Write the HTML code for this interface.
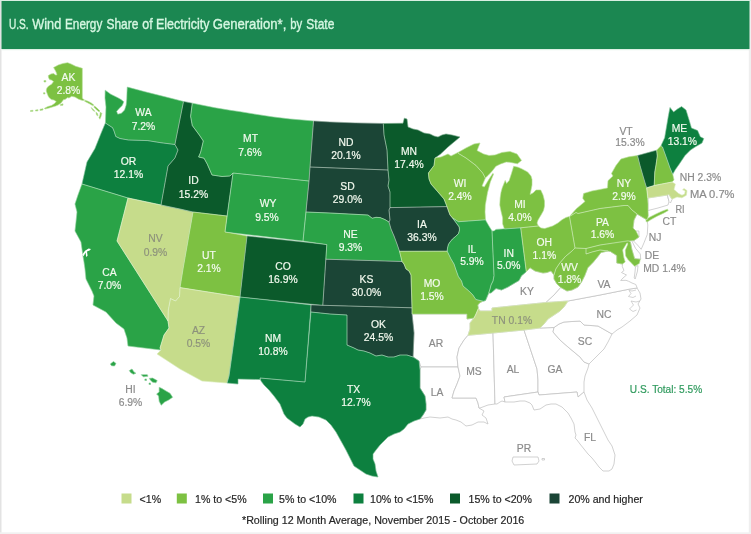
<!DOCTYPE html>
<html lang="en"><head><meta charset="utf-8"><title>U.S. Wind Energy Share of Electricity Generation, by State</title>
<style>
html,body{margin:0;padding:0;background:#fff;}
body{width:751px;height:534px;overflow:hidden;position:relative;font-family:"Liberation Sans",Arial,sans-serif;}
svg{position:absolute;left:0;top:0;display:block;filter:blur(0.45px);}
svg text{font-family:"Liberation Sans",Arial,sans-serif;}
</style></head><body>
<svg width="751" height="534" viewBox="0 0 751 534">
<rect x="0" y="0" width="751" height="534" fill="#ffffff"/>
<rect x="0" y="0" width="1.5" height="534" fill="#e3e3e3"/>
<rect x="748.8" y="0" width="2.2" height="534" fill="#efefef"/>
<rect x="0" y="532.3" width="751" height="1.7" fill="#f1f1f1"/>
<rect x="0" y="0" width="751" height="1" fill="#d9efe2"/>
<rect x="1.5" y="1" width="748" height="48" fill="#1b8751"/>
<rect x="1.5" y="49" width="748" height="1.2" fill="#dff1e6"/>

<text y="29" font-size="14.5" fill="#d6f7e2" stroke="#d6f7e2" stroke-width="0.35"><tspan x="8.9" textLength="19.7" lengthAdjust="spacingAndGlyphs">U.S.</tspan> <tspan x="32.3" textLength="28.9" lengthAdjust="spacingAndGlyphs">Wind</tspan> <tspan x="65" textLength="37.3" lengthAdjust="spacingAndGlyphs">Energy</tspan> <tspan x="106.5" textLength="31.9" lengthAdjust="spacingAndGlyphs">Share</tspan> <tspan x="142.3" textLength="10.4" lengthAdjust="spacingAndGlyphs">of</tspan> <tspan x="155.9" textLength="53.6" lengthAdjust="spacingAndGlyphs">Electricity</tspan> <tspan x="212.7" textLength="73.6" lengthAdjust="spacingAndGlyphs">Generation*,</tspan> <tspan x="290.3" textLength="12.0" lengthAdjust="spacingAndGlyphs">by</tspan> <tspan x="306.3" textLength="28.0" lengthAdjust="spacingAndGlyphs">State</tspan></text>
<g fill="#ffffff" stroke="#c2c2c2" stroke-width="0.75" stroke-linejoin="round">
<path d="M478.3,308.5 L477.8,305.0 L479.8,302.8 L483.0,301.2 L485.5,300.5 L487.0,297.0 L488.7,293.0 L491.0,293.0 L496.0,288.5 L501.5,290.0 L508.0,287.0 L513.0,284.0 L519.0,280.5 L521.5,275.7 L526.3,271.7 L530.0,267.7 L535.0,271.0 L539.0,272.0 L543.0,273.0 L547.0,272.5 L551.0,271.0 L554.0,275.0 L554.0,279.0 L557.0,284.0 L560.8,287.5 L554.0,295.0 L546.0,302.5 L492.0,308.0 L492.0,311.0 L480.0,311.0Z"/>
<path d="M412.0,314.0 L467.0,314.0 L467.0,319.0 L474.0,318.0 L470.0,323.0 L470.0,329.0 L468.0,335.3 L464.0,340.0 L459.0,348.0 L457.0,357.0 L458.0,367.0 L421.0,367.0 L419.0,361.0 L413.0,357.0 L414.0,333.0Z"/>
<path d="M421.0,367.0 L458.0,367.0 L460.0,376.0 L457.0,384.0 L454.0,391.0 L452.0,398.0 L476.0,398.0 L478.0,403.0 L479.0,408.0 L484.0,411.0 L482.0,415.0 L486.0,418.0 L488.0,424.0 L484.0,422.0 L478.0,422.0 L472.0,425.0 L466.0,426.0 L461.0,422.0 L456.0,420.0 L452.0,419.0 L448.0,417.0 L440.0,418.0 L430.0,417.0 L424.0,418.0 L420.0,419.0 L423.0,415.0 L426.0,410.0 L426.0,404.0 L425.0,396.0 L420.0,388.0 L420.0,370.0Z"/>
<path d="M468.0,335.3 L493.0,333.0 L495.0,404.0 L488.0,405.0 L480.0,408.0 L479.0,408.0 L478.0,403.0 L476.0,398.0 L452.0,398.0 L454.0,391.0 L457.0,384.0 L460.0,376.0 L458.0,367.0 L457.0,357.0 L459.0,348.0 L464.0,340.0Z"/>
<path d="M493.0,333.0 L524.0,330.0 L537.0,369.0 L538.0,380.0 L538.0,392.0 L504.0,397.0 L505.0,402.0 L502.0,401.0 L500.0,402.0 L497.0,404.0 L495.0,404.0Z"/>
<path d="M524.0,330.0 L540.0,328.0 L554.0,327.5 L553.0,332.0 L560.0,340.0 L568.0,347.0 L574.0,352.0 L580.0,357.0 L584.0,362.0 L589.0,364.0 L588.0,368.0 L585.0,376.0 L584.0,382.0 L584.0,392.0 L578.0,397.0 L577.0,392.0 L539.0,395.0 L538.0,392.0 L538.0,380.0 L537.0,369.0Z"/>
<path d="M504.0,397.0 L538.0,392.0 L539.0,395.0 L577.0,392.0 L578.0,397.0 L584.0,392.0 L587.0,400.0 L592.0,408.0 L598.0,420.0 L604.0,432.0 L608.0,440.0 L612.0,446.0 L615.0,455.0 L614.0,464.0 L612.0,469.0 L609.0,471.0 L603.0,471.0 L599.0,467.0 L596.0,463.0 L592.0,458.0 L588.0,454.0 L584.0,449.0 L580.0,444.0 L577.0,440.0 L575.0,438.0 L576.0,435.0 L575.0,432.0 L574.0,424.0 L571.0,418.0 L568.0,413.0 L562.0,407.0 L556.0,404.0 L551.0,404.0 L546.0,405.0 L540.0,409.0 L534.0,410.0 L532.0,405.0 L530.0,403.0 L525.0,401.0 L520.0,401.0 L514.0,402.0 L508.0,402.0 L505.0,402.0Z"/>
<path d="M554.0,327.5 L559.0,324.0 L564.0,322.0 L572.0,321.5 L580.0,321.0 L584.0,325.0 L598.0,326.0 L605.0,330.0 L612.0,334.0 L608.0,342.0 L604.0,349.0 L598.0,355.0 L592.0,361.0 L589.0,364.0 L584.0,362.0 L580.0,357.0 L574.0,352.0 L568.0,347.0 L560.0,340.0 L553.0,332.0Z"/>
<path d="M540.0,328.0 L544.0,324.0 L548.0,319.0 L554.0,315.0 L560.0,311.0 L564.0,307.0 L568.0,301.0 L600.0,295.0 L630.0,289.0 L637.0,288.0 L640.0,293.0 L641.0,299.0 L638.0,304.0 L640.0,308.0 L637.0,315.0 L630.0,321.0 L622.0,327.0 L617.0,330.0 L612.0,334.0 L605.0,330.0 L598.0,326.0 L584.0,325.0 L580.0,321.0 L572.0,321.5 L564.0,322.0 L559.0,324.0 L554.0,327.5Z"/>
<path d="M546.0,302.5 L554.0,295.0 L560.8,287.5 L567.0,291.0 L572.0,290.0 L578.0,287.0 L581.5,282.0 L584.7,275.7 L587.8,267.8 L593.4,262.0 L597.5,257.0 L601.0,252.5 L608.0,251.0 L610.3,251.4 L616.8,255.6 L616.8,263.0 L622.4,264.0 L622.3,266.5 L624.0,270.5 L621.5,272.5 L626.5,275.0 L623.0,278.0 L620.7,280.5 L626.0,280.3 L628.7,281.3 L632.0,283.0 L635.8,284.5 L637.2,288.0 L630.0,289.0 L600.0,295.0 L568.0,301.0ZM635.5,266.4 L638.0,265.6 L637.5,271.0 L635.2,279.0 L634.2,278.0 L635.0,272.0Z"/>
<path d="M628.7,241.0 L631.4,240.0 L635.6,248.4 L640.3,254.0 L640.7,259.2 L634.6,258.7 L631.8,249.3 L630.4,241.9Z"/>
<path d="M637.0,214.0 L647.0,220.0 L647.8,225.0 L647.3,234.4 L644.0,242.8 L641.2,249.3 L637.5,245.0 L633.0,240.5 L634.0,240.5 L639.0,237.0 L638.9,231.0 L636.0,231.0 L633.0,228.0 L634.0,220.0Z"/>
<path d="M648.0,198.0 L667.4,195.0 L669.0,201.5 L668.0,205.0 L658.0,208.0 L648.0,210.5Z"/>
<path d="M667.4,195.0 L669.0,194.5 L672.0,199.5 L670.5,203.0 L669.0,201.5Z"/>
<path d="M513.0,457.0 L538.0,457.0 L539.0,461.0 L537.0,464.0 L514.0,465.0 L512.0,461.0ZM542.0,458.5 L544.5,458.5 L544.5,460.0 L542.0,460.0Z"/>
</g>
<g stroke-width="0.4" stroke-linejoin="round">
<path fill="#2aa347" stroke="#2aa347" d="M105.2,90.2 L110.7,94.2 L117.8,97.7 L121.0,99.6 L123.8,101.8 L122.2,105.5 L118.8,108.8 L116.6,111.4 L117.8,114.2 L121.5,113.2 L124.6,110.0 L126.2,105.0 L126.8,99.0 L127.0,92.6 L127.3,87.1 L145.0,91.8 L165.0,96.8 L183.5,101.5 L174.9,144.5 L160.0,142.6 L147.7,140.6 L128.5,140.0 L120.0,138.5 L115.8,136.5 L114.0,131.0 L112.6,127.7 L105.4,123.0 L106.0,107.0 L105.0,98.0Z"/>
<path fill="#0d803f" stroke="#0d803f" d="M105.4,123.0 L112.6,127.7 L114.0,131.0 L115.8,136.5 L120.0,138.5 L128.5,140.0 L147.7,140.6 L160.0,142.6 L174.9,144.5 L178.0,150.0 L174.9,158.0 L168.0,166.0 L161.0,205.0 L128.0,198.0 L82.0,184.0 L87.0,162.0 L95.0,148.5 L101.4,132.5Z"/>
<path fill="#2aa347" stroke="#2aa347" d="M82.0,184.0 L128.0,198.0 L117.0,241.0 L168.0,321.0 L169.0,328.0 L164.0,335.0 L160.0,348.0 L161.0,350.0 L128.0,346.0 L127.0,338.0 L124.0,329.0 L116.0,323.0 L106.0,312.0 L93.0,305.0 L94.0,296.0 L92.0,291.0 L86.0,279.0 L85.0,269.0 L84.0,262.0 L83.0,256.0 L81.0,242.0 L75.0,231.0 L76.0,222.0 L77.0,212.0 L75.0,204.0 L78.0,195.0Z"/>
<path fill="#c6dc8b" stroke="#c6dc8b" d="M128.0,198.0 L161.0,205.0 L180.0,209.0 L193.0,212.0 L183.0,269.0 L180.0,287.6 L179.5,296.5 L175.5,301.0 L170.5,298.5 L168.3,310.0 L168.0,321.0 L117.0,241.0Z"/>
<path fill="#0b5a2b" stroke="#0b5a2b" d="M183.5,101.5 L192.3,103.2 L190.6,116.3 L192.3,125.6 L199.3,135.0 L203.3,141.0 L200.6,152.3 L198.6,157.0 L204.0,158.2 L207.3,164.2 L212.0,175.0 L222.0,176.5 L230.0,176.0 L233.0,173.0 L227.0,216.0 L193.0,212.0 L180.0,209.0 L161.0,205.0 L168.0,166.0 L174.9,158.0 L178.0,150.0 L174.9,144.5Z"/>
<path fill="#2aa347" stroke="#2aa347" d="M192.3,103.2 L215.0,107.8 L230.0,110.3 L240.0,111.7 L255.0,114.2 L273.3,117.0 L290.0,119.0 L313.5,121.0 L310.0,167.0 L309.0,181.0 L233.0,173.0 L230.0,176.0 L222.0,176.5 L212.0,175.0 L207.3,164.2 L204.0,158.2 L198.6,157.0 L200.6,152.3 L203.3,141.0 L199.3,135.0 L192.3,125.6 L190.6,116.3Z"/>
<path fill="#2aa347" stroke="#2aa347" d="M233.0,173.0 L309.0,181.0 L303.0,241.0 L225.0,232.0Z"/>
<path fill="#7dc142" stroke="#7dc142" d="M193.0,212.0 L227.0,216.0 L225.0,232.0 L247.0,236.0 L240.0,297.0 L180.0,287.6 L183.0,269.0Z"/>
<path fill="#c6dc8b" stroke="#c6dc8b" d="M180.0,287.6 L240.0,297.0 L229.0,376.0 L227.0,383.0 L202.0,381.0 L180.0,369.0 L157.0,354.0 L161.0,350.0 L160.0,348.0 L164.0,335.0 L169.0,328.0 L168.0,321.0 L168.3,310.0 L170.5,298.5 L175.5,301.0 L179.5,296.5Z"/>
<path fill="#0b5a2b" stroke="#0b5a2b" d="M247.0,236.0 L326.8,244.6 L322.8,305.3 L240.0,297.0Z"/>
<path fill="#0d803f" stroke="#0d803f" d="M240.0,297.0 L311.0,305.0 L305.0,382.0 L260.0,378.0 L260.0,379.5 L238.0,379.0 L238.0,384.0 L227.0,383.0 L229.0,376.0Z"/>
<path fill="#1b4536" stroke="#1b4536" d="M313.5,121.0 L330.0,122.0 L355.0,122.9 L383.3,123.5 L384.0,135.0 L387.0,150.0 L388.0,170.0 L310.0,167.0Z"/>
<path fill="#1b4536" stroke="#1b4536" d="M310.0,167.0 L388.0,170.0 L389.0,180.0 L388.0,186.0 L390.0,192.0 L390.0,207.6 L389.0,210.0 L390.0,220.0 L389.0,222.0 L385.0,219.6 L380.2,217.6 L376.0,217.3 L372.2,218.2 L368.0,215.0 L330.0,213.0 L306.0,212.0 L309.0,181.0Z"/>
<path fill="#2aa347" stroke="#2aa347" d="M306.0,212.0 L330.0,213.0 L368.0,215.0 L372.2,218.2 L376.0,217.3 L380.2,217.6 L385.0,219.6 L389.0,222.0 L391.0,229.0 L394.0,236.0 L397.0,244.0 L399.5,251.3 L402.0,261.5 L325.8,259.2 L326.8,244.6 L303.0,241.0Z"/>
<path fill="#1b4536" stroke="#1b4536" d="M325.8,259.2 L402.0,261.5 L404.0,264.0 L406.0,269.0 L409.0,271.0 L411.0,275.0 L412.0,307.8 L322.8,305.3Z"/>
<path fill="#1b4536" stroke="#1b4536" d="M311.0,305.0 L322.8,305.3 L412.0,307.8 L412.0,314.0 L414.0,333.0 L413.0,357.0 L407.0,355.0 L400.0,355.0 L394.0,357.0 L388.0,357.0 L382.0,355.0 L376.0,356.0 L370.0,353.0 L364.0,351.0 L358.0,350.0 L354.0,348.0 L347.0,345.0 L347.0,315.0 L330.0,314.0 L311.0,312.0Z"/>
<path fill="#0d803f" stroke="#0d803f" d="M311.0,312.0 L330.0,314.0 L347.0,315.0 L347.0,345.0 L354.0,348.0 L358.0,350.0 L364.0,351.0 L370.0,353.0 L376.0,356.0 L382.0,355.0 L388.0,357.0 L394.0,357.0 L400.0,355.0 L407.0,355.0 L413.0,357.0 L419.0,361.0 L420.0,370.0 L420.0,388.0 L425.0,396.0 L426.0,404.0 L426.0,410.0 L423.0,415.0 L420.0,419.0 L414.0,421.0 L408.0,424.0 L404.0,429.0 L400.0,432.0 L394.0,434.0 L388.0,437.0 L383.0,442.0 L380.0,445.0 L376.0,450.0 L373.0,454.0 L373.0,459.0 L375.0,464.0 L376.0,471.0 L378.0,477.0 L372.0,476.0 L366.0,474.0 L360.0,470.0 L354.0,466.0 L350.0,458.0 L346.0,450.0 L341.0,441.0 L336.0,432.0 L331.0,425.0 L326.0,420.0 L319.0,417.0 L312.0,416.0 L308.0,417.0 L305.0,419.0 L303.0,424.0 L300.0,427.0 L295.0,424.0 L291.0,421.0 L287.0,418.0 L284.0,414.0 L282.0,409.0 L280.0,404.0 L277.0,400.0 L274.0,396.0 L269.0,390.0 L264.0,385.0 L261.0,381.0 L260.0,378.0 L305.0,382.0Z"/>
<path fill="#0b5a2b" stroke="#0b5a2b" d="M383.3,123.5 L403.0,123.3 L404.3,118.2 L407.0,119.0 L408.0,127.0 L413.0,129.0 L418.0,130.0 L424.0,133.0 L430.0,134.0 L434.0,136.0 L438.0,137.0 L442.0,135.0 L446.0,134.0 L452.0,135.0 L460.0,137.0 L454.0,142.0 L448.0,147.0 L440.6,154.0 L435.0,158.0 L434.0,165.5 L428.4,173.0 L429.0,179.0 L431.0,184.0 L437.8,191.8 L444.0,199.0 L447.0,206.6 L390.0,207.6 L390.0,192.0 L388.0,186.0 L389.0,180.0 L388.0,170.0 L387.0,150.0 L384.0,135.0Z"/>
<path fill="#1b4536" stroke="#1b4536" d="M390.0,207.6 L447.0,206.6 L448.5,211.0 L450.0,215.0 L455.2,221.6 L459.2,227.0 L459.5,230.0 L458.5,233.6 L455.5,236.5 L452.5,239.0 L450.0,242.0 L448.5,244.3 L447.5,248.0 L447.2,251.2 L399.5,251.3 L397.0,244.0 L394.0,236.0 L391.0,229.0 L389.0,222.0 L390.0,220.0 L389.0,210.0Z"/>
<path fill="#7dc142" stroke="#7dc142" d="M399.5,251.3 L447.2,251.2 L451.0,259.0 L454.0,264.0 L456.0,270.0 L458.3,276.4 L461.5,281.0 L463.0,286.0 L468.7,290.8 L472.7,294.8 L475.9,299.5 L483.0,301.2 L479.8,302.8 L477.8,305.0 L478.3,308.5 L476.0,314.0 L474.0,318.0 L467.0,319.0 L467.0,314.0 L412.0,314.0 L412.0,307.8 L411.0,275.0 L409.0,271.0 L406.0,269.0 L404.0,264.0 L402.0,261.5Z"/>
<path fill="#7dc142" stroke="#7dc142" d="M435.0,158.0 L441.0,157.0 L448.0,154.0 L451.0,156.0 L458.0,152.5 L458.4,153.4 L466.0,158.0 L476.0,165.5 L482.7,173.0 L485.3,178.0 L482.0,186.0 L484.3,187.0 L488.8,179.6 L492.8,173.4 L493.6,174.0 L490.3,182.0 L487.5,192.5 L485.3,205.0 L485.0,212.0 L485.5,219.8 L458.4,221.7 L452.7,218.0 L450.0,215.0 L448.5,211.0 L447.0,206.6 L444.0,199.0 L437.8,191.8 L431.0,184.0 L429.0,179.0 L428.4,173.0 L434.0,165.5Z"/>
<path fill="#7dc142" stroke="#7dc142" d="M458.0,152.5 L466.0,148.0 L474.0,144.0 L480.0,143.0 L477.0,150.6 L483.6,154.0 L489.0,155.5 L495.0,155.0 L502.0,152.5 L510.0,151.5 L517.0,154.0 L521.5,160.4 L517.4,163.8 L513.7,163.0 L509.5,162.2 L506.2,162.0 L500.6,163.9 L495.9,166.2 L492.2,171.0 L488.5,175.0 L485.3,178.0 L482.7,173.0 L476.0,165.5 L466.0,158.0 L458.4,153.4ZM513.7,166.3 L518.0,167.2 L522.0,169.0 L527.6,172.0 L531.0,176.0 L532.0,179.6 L532.0,185.0 L531.0,190.0 L530.0,194.5 L533.0,193.0 L536.0,190.0 L540.7,190.0 L543.0,195.0 L544.5,201.0 L544.5,206.0 L543.5,210.5 L541.0,215.0 L538.0,220.0 L537.0,223.0 L538.3,226.0 L520.7,227.8 L504.5,229.0 L502.7,224.0 L502.7,218.0 L501.0,211.0 L499.8,205.0 L500.2,198.0 L501.0,192.5 L502.2,188.0 L503.8,184.0 L505.2,180.5 L506.6,183.6 L509.2,180.5 L511.5,173.5Z"/>
<path fill="#2aa347" stroke="#2aa347" d="M458.4,221.7 L485.5,219.8 L486.0,221.0 L489.5,227.0 L492.0,231.0 L494.0,275.7 L493.0,281.0 L491.0,285.0 L490.0,289.0 L488.7,293.0 L487.0,297.0 L485.5,300.5 L483.0,301.2 L475.9,299.5 L472.7,294.8 L468.7,290.8 L463.0,286.0 L461.5,281.0 L458.3,276.4 L456.0,270.0 L454.0,264.0 L451.0,259.0 L447.2,251.2 L447.5,248.0 L448.5,244.3 L450.0,242.0 L452.5,239.0 L455.5,236.5 L458.5,233.6 L459.5,230.0 L459.2,227.0 L455.2,221.6 L452.7,218.0Z"/>
<path fill="#2aa347" stroke="#2aa347" d="M492.0,231.0 L494.0,231.0 L496.0,229.4 L520.7,227.8 L526.3,271.7 L521.5,275.7 L519.0,280.5 L513.0,284.0 L508.0,287.0 L501.5,290.0 L496.0,288.5 L491.0,293.0 L488.7,293.0 L490.0,289.0 L491.0,285.0 L493.0,281.0 L494.0,275.7Z"/>
<path fill="#7dc142" stroke="#7dc142" d="M520.7,227.8 L538.3,226.0 L541.0,228.0 L544.7,228.6 L548.0,227.5 L552.7,226.0 L558.0,223.0 L562.0,219.8 L566.0,217.5 L569.5,216.5 L575.0,248.0 L572.0,251.0 L565.4,256.5 L559.8,263.0 L555.8,269.0 L554.0,275.0 L551.0,271.0 L547.0,272.5 L543.0,273.0 L539.0,272.0 L535.0,271.0 L530.0,267.7 L526.3,271.7Z"/>
<path fill="#c6dc8b" stroke="#c6dc8b" d="M468.0,335.3 L470.0,329.0 L470.0,323.0 L474.0,318.0 L476.0,314.0 L478.3,308.5 L480.0,311.0 L492.0,311.0 L492.0,308.0 L546.0,302.5 L568.0,301.0 L564.0,307.0 L560.0,311.0 L554.0,315.0 L548.0,319.0 L544.0,324.0 L540.0,328.0 L524.0,330.0 L493.0,333.0Z"/>
<path fill="#7dc142" stroke="#7dc142" d="M575.0,248.0 L586.0,248.5 L586.0,254.0 L592.0,252.0 L600.0,250.0 L608.0,251.0 L601.0,252.5 L597.5,257.0 L593.4,262.0 L587.8,267.8 L584.7,275.7 L581.5,282.0 L578.0,287.0 L572.0,290.0 L567.0,291.0 L560.8,287.5 L557.0,284.0 L554.0,279.0 L554.0,275.0 L555.8,269.0 L559.8,263.0 L565.4,256.5 L572.0,251.0Z"/>
<path fill="#7dc142" stroke="#7dc142" d="M569.5,216.5 L576.0,212.5 L578.0,213.5 L600.0,208.5 L624.0,205.5 L628.0,205.5 L632.0,210.0 L637.0,214.0 L634.0,220.0 L633.0,228.0 L636.0,231.0 L639.0,237.0 L634.0,240.5 L628.7,241.0 L600.0,245.0 L586.0,248.5 L575.0,248.0Z"/>
<path fill="#7dc142" stroke="#7dc142" d="M586.0,248.5 L600.0,245.0 L628.0,240.6 L630.4,241.9 L631.8,249.3 L634.6,258.7 L640.3,259.2 L639.3,263.4 L634.6,266.2 L630.9,262.5 L628.0,259.6 L625.7,255.9 L625.3,250.3 L628.0,243.7 L627.0,242.8 L622.6,250.0 L623.8,257.5 L625.2,262.0 L622.4,264.0 L616.8,263.0 L616.8,255.6 L610.3,251.4 L608.0,251.0 L600.0,250.0 L592.0,252.0 L586.0,254.0Z"/>
<path fill="#7dc142" stroke="#7dc142" d="M569.5,216.5 L576.4,208.7 L585.0,201.5 L582.8,198.3 L583.6,193.5 L592.0,191.0 L600.0,189.5 L607.5,188.0 L608.0,180.7 L613.0,176.0 L611.5,173.5 L616.0,165.5 L621.0,159.0 L629.0,156.8 L637.5,155.6 L640.0,165.5 L643.0,176.0 L646.0,186.0 L646.7,188.0 L647.5,197.5 L648.0,204.0 L648.0,210.0 L648.3,215.5 L647.2,220.0 L637.0,214.0 L632.0,210.0 L628.0,205.5 L624.0,205.5 L600.0,208.5 L578.0,213.5 L576.0,212.5ZM646.0,219.6 L650.0,217.0 L656.0,214.0 L662.0,211.2 L667.5,209.2 L668.2,210.6 L664.0,212.9 L657.0,216.2 L651.0,219.6 L647.5,221.8 L646.0,221.5Z"/>
<path fill="#0b5a2b" stroke="#0b5a2b" d="M637.5,155.6 L656.7,150.2 L657.3,156.0 L656.0,165.0 L654.8,172.0 L654.2,185.5 L646.7,187.5 L646.0,186.0 L643.0,176.0 L640.0,165.5Z"/>
<path fill="#7dc142" stroke="#7dc142" d="M656.7,150.2 L661.0,145.7 L662.5,147.0 L665.6,155.5 L670.0,168.0 L672.7,174.2 L674.0,180.0 L672.0,182.0 L654.2,185.5 L654.8,172.0 L656.0,165.0 L657.3,156.0Z"/>
<path fill="#0d803f" stroke="#0d803f" d="M661.0,145.7 L664.7,137.7 L666.5,127.0 L668.3,116.4 L670.0,107.5 L673.6,112.0 L677.5,109.0 L681.6,106.6 L686.0,110.0 L689.6,121.7 L691.4,128.0 L697.6,130.6 L700.3,136.8 L703.8,138.6 L702.0,143.0 L695.8,146.6 L690.5,150.0 L685.0,155.5 L679.0,164.4 L675.4,169.5 L672.7,174.2 L670.0,168.0 L665.6,155.5 L662.5,147.0Z"/>
<path fill="#c6dc8b" stroke="#c6dc8b" d="M646.7,188.0 L654.2,185.5 L672.0,182.0 L675.4,184.0 L674.0,189.5 L678.6,193.5 L682.0,195.2 L684.6,194.0 L685.2,191.0 L682.6,189.8 L684.0,188.6 L687.0,190.6 L686.4,195.2 L682.0,197.8 L677.0,197.0 L672.0,199.2 L669.0,194.5 L667.4,195.0 L648.0,198.0Z"/>
<path fill="#7dc142" stroke="#7dc142" d="M53.6,67.6 L58.3,65.0 L63.0,63.5 L67.6,62.7 L71.0,64.0 L75.6,66.3 L82.3,68.3 L82.3,98.3 L84.5,100.0 L83.0,100.6 L81.0,100.0 L78.3,99.0 L75.0,97.0 L71.6,96.3 L69.0,98.0 L67.6,97.6 L65.0,99.5 L63.6,99.6 L61.0,103.0 L58.0,105.0 L55.6,106.0 L49.0,108.0 L45.0,109.0 L44.5,108.3 L48.0,106.5 L51.6,105.6 L54.5,103.5 L56.3,101.6 L54.0,100.0 L51.6,99.6 L49.5,98.0 L48.3,96.3 L47.0,93.0 L46.3,91.0 L46.5,89.0 L47.6,87.0 L49.5,85.5 L51.6,84.3 L53.6,81.6 L51.5,80.0 L49.6,79.6 L48.5,77.5 L48.3,75.6 L51.0,74.0 L53.6,73.6 L55.5,75.0 L57.0,75.0 L56.5,73.0 L55.6,71.0 L54.5,69.0ZM85.0,100.2 L88.0,101.3 L91.6,103.2 L94.0,105.2 L92.5,105.6 L90.0,104.0 L87.0,102.4 L84.6,101.2ZM94.5,106.0 L97.5,108.5 L100.0,111.0 L99.0,111.8 L96.5,109.8 L93.8,107.0ZM100.3,112.0 L101.8,113.5 L100.8,117.0 L99.8,119.2 L99.0,117.5 L100.0,115.0ZM96.0,112.0 L97.5,113.5 L98.0,116.0 L96.5,115.0ZM91.0,107.5 L93.5,109.5 L95.0,111.5 L93.0,110.5ZM40.0,109.3 L43.0,108.8 L43.0,110.0 L40.0,110.4ZM35.5,110.0 L38.0,109.7 L38.0,110.8 L35.5,111.0ZM30.5,110.5 L33.0,110.3 L33.0,111.3 L30.5,111.5ZM60.5,104.5 L63.0,103.8 L63.0,105.2 L60.5,105.6ZM44.0,80.5 L45.8,80.5 L45.8,82.0 L44.0,82.0ZM43.5,92.8 L45.0,92.8 L45.0,94.0 L43.5,94.0Z"/>
<path fill="#2aa347" stroke="#2aa347" d="M110.3,364.0 L113.5,361.5 L116.0,363.5 L114.5,366.0 L111.5,365.7ZM129.3,370.6 L132.0,369.0 L134.0,372.0 L136.0,373.3 L133.3,374.2 L130.6,372.6ZM141.3,374.7 L147.3,374.7 L148.0,376.2 L143.3,376.8ZM144.9,379.0 L146.5,379.0 L146.5,380.5 L144.9,380.5ZM149.3,378.4 L152.6,378.1 L157.2,380.6 L156.0,382.8 L152.6,382.2 L150.6,380.2ZM149.0,383.0 L150.5,383.0 L150.5,384.5 L149.0,384.5ZM159.2,387.3 L162.0,388.6 L166.0,391.0 L170.0,393.3 L172.6,397.3 L168.6,400.0 L164.6,402.0 L161.2,405.2 L159.2,401.3 L158.6,396.0 L156.6,394.0 L159.2,392.0Z"/>
</g>
<g fill="none" stroke="#f0fff0" stroke-opacity="0.3" stroke-width="0.9" stroke-linejoin="round">
<path d="M105.2,90.2 L110.7,94.2 L117.8,97.7 L121.0,99.6 L123.8,101.8 L122.2,105.5 L118.8,108.8 L116.6,111.4 L117.8,114.2 L121.5,113.2 L124.6,110.0 L126.2,105.0 L126.8,99.0 L127.0,92.6 L127.3,87.1 L145.0,91.8 L165.0,96.8 L183.5,101.5 L174.9,144.5 L160.0,142.6 L147.7,140.6 L128.5,140.0 L120.0,138.5 L115.8,136.5 L114.0,131.0 L112.6,127.7 L105.4,123.0 L106.0,107.0 L105.0,98.0Z"/>
<path d="M105.4,123.0 L112.6,127.7 L114.0,131.0 L115.8,136.5 L120.0,138.5 L128.5,140.0 L147.7,140.6 L160.0,142.6 L174.9,144.5 L178.0,150.0 L174.9,158.0 L168.0,166.0 L161.0,205.0 L128.0,198.0 L82.0,184.0 L87.0,162.0 L95.0,148.5 L101.4,132.5Z"/>
<path d="M82.0,184.0 L128.0,198.0 L117.0,241.0 L168.0,321.0 L169.0,328.0 L164.0,335.0 L160.0,348.0 L161.0,350.0 L128.0,346.0 L127.0,338.0 L124.0,329.0 L116.0,323.0 L106.0,312.0 L93.0,305.0 L94.0,296.0 L92.0,291.0 L86.0,279.0 L85.0,269.0 L84.0,262.0 L83.0,256.0 L81.0,242.0 L75.0,231.0 L76.0,222.0 L77.0,212.0 L75.0,204.0 L78.0,195.0Z"/>
<path d="M128.0,198.0 L161.0,205.0 L180.0,209.0 L193.0,212.0 L183.0,269.0 L180.0,287.6 L179.5,296.5 L175.5,301.0 L170.5,298.5 L168.3,310.0 L168.0,321.0 L117.0,241.0Z"/>
<path d="M183.5,101.5 L192.3,103.2 L190.6,116.3 L192.3,125.6 L199.3,135.0 L203.3,141.0 L200.6,152.3 L198.6,157.0 L204.0,158.2 L207.3,164.2 L212.0,175.0 L222.0,176.5 L230.0,176.0 L233.0,173.0 L227.0,216.0 L193.0,212.0 L180.0,209.0 L161.0,205.0 L168.0,166.0 L174.9,158.0 L178.0,150.0 L174.9,144.5Z"/>
<path d="M192.3,103.2 L215.0,107.8 L230.0,110.3 L240.0,111.7 L255.0,114.2 L273.3,117.0 L290.0,119.0 L313.5,121.0 L310.0,167.0 L309.0,181.0 L233.0,173.0 L230.0,176.0 L222.0,176.5 L212.0,175.0 L207.3,164.2 L204.0,158.2 L198.6,157.0 L200.6,152.3 L203.3,141.0 L199.3,135.0 L192.3,125.6 L190.6,116.3Z"/>
<path d="M233.0,173.0 L309.0,181.0 L303.0,241.0 L225.0,232.0Z"/>
<path d="M193.0,212.0 L227.0,216.0 L225.0,232.0 L247.0,236.0 L240.0,297.0 L180.0,287.6 L183.0,269.0Z"/>
<path d="M180.0,287.6 L240.0,297.0 L229.0,376.0 L227.0,383.0 L202.0,381.0 L180.0,369.0 L157.0,354.0 L161.0,350.0 L160.0,348.0 L164.0,335.0 L169.0,328.0 L168.0,321.0 L168.3,310.0 L170.5,298.5 L175.5,301.0 L179.5,296.5Z"/>
<path d="M247.0,236.0 L326.8,244.6 L322.8,305.3 L240.0,297.0Z"/>
<path d="M240.0,297.0 L311.0,305.0 L305.0,382.0 L260.0,378.0 L260.0,379.5 L238.0,379.0 L238.0,384.0 L227.0,383.0 L229.0,376.0Z"/>
<path d="M313.5,121.0 L330.0,122.0 L355.0,122.9 L383.3,123.5 L384.0,135.0 L387.0,150.0 L388.0,170.0 L310.0,167.0Z"/>
<path d="M310.0,167.0 L388.0,170.0 L389.0,180.0 L388.0,186.0 L390.0,192.0 L390.0,207.6 L389.0,210.0 L390.0,220.0 L389.0,222.0 L385.0,219.6 L380.2,217.6 L376.0,217.3 L372.2,218.2 L368.0,215.0 L330.0,213.0 L306.0,212.0 L309.0,181.0Z"/>
<path d="M306.0,212.0 L330.0,213.0 L368.0,215.0 L372.2,218.2 L376.0,217.3 L380.2,217.6 L385.0,219.6 L389.0,222.0 L391.0,229.0 L394.0,236.0 L397.0,244.0 L399.5,251.3 L402.0,261.5 L325.8,259.2 L326.8,244.6 L303.0,241.0Z"/>
<path d="M325.8,259.2 L402.0,261.5 L404.0,264.0 L406.0,269.0 L409.0,271.0 L411.0,275.0 L412.0,307.8 L322.8,305.3Z"/>
<path d="M311.0,305.0 L322.8,305.3 L412.0,307.8 L412.0,314.0 L414.0,333.0 L413.0,357.0 L407.0,355.0 L400.0,355.0 L394.0,357.0 L388.0,357.0 L382.0,355.0 L376.0,356.0 L370.0,353.0 L364.0,351.0 L358.0,350.0 L354.0,348.0 L347.0,345.0 L347.0,315.0 L330.0,314.0 L311.0,312.0Z"/>
<path d="M311.0,312.0 L330.0,314.0 L347.0,315.0 L347.0,345.0 L354.0,348.0 L358.0,350.0 L364.0,351.0 L370.0,353.0 L376.0,356.0 L382.0,355.0 L388.0,357.0 L394.0,357.0 L400.0,355.0 L407.0,355.0 L413.0,357.0 L419.0,361.0 L420.0,370.0 L420.0,388.0 L425.0,396.0 L426.0,404.0 L426.0,410.0 L423.0,415.0 L420.0,419.0 L414.0,421.0 L408.0,424.0 L404.0,429.0 L400.0,432.0 L394.0,434.0 L388.0,437.0 L383.0,442.0 L380.0,445.0 L376.0,450.0 L373.0,454.0 L373.0,459.0 L375.0,464.0 L376.0,471.0 L378.0,477.0 L372.0,476.0 L366.0,474.0 L360.0,470.0 L354.0,466.0 L350.0,458.0 L346.0,450.0 L341.0,441.0 L336.0,432.0 L331.0,425.0 L326.0,420.0 L319.0,417.0 L312.0,416.0 L308.0,417.0 L305.0,419.0 L303.0,424.0 L300.0,427.0 L295.0,424.0 L291.0,421.0 L287.0,418.0 L284.0,414.0 L282.0,409.0 L280.0,404.0 L277.0,400.0 L274.0,396.0 L269.0,390.0 L264.0,385.0 L261.0,381.0 L260.0,378.0 L305.0,382.0Z"/>
<path d="M383.3,123.5 L403.0,123.3 L404.3,118.2 L407.0,119.0 L408.0,127.0 L413.0,129.0 L418.0,130.0 L424.0,133.0 L430.0,134.0 L434.0,136.0 L438.0,137.0 L442.0,135.0 L446.0,134.0 L452.0,135.0 L460.0,137.0 L454.0,142.0 L448.0,147.0 L440.6,154.0 L435.0,158.0 L434.0,165.5 L428.4,173.0 L429.0,179.0 L431.0,184.0 L437.8,191.8 L444.0,199.0 L447.0,206.6 L390.0,207.6 L390.0,192.0 L388.0,186.0 L389.0,180.0 L388.0,170.0 L387.0,150.0 L384.0,135.0Z"/>
<path d="M390.0,207.6 L447.0,206.6 L448.5,211.0 L450.0,215.0 L455.2,221.6 L459.2,227.0 L459.5,230.0 L458.5,233.6 L455.5,236.5 L452.5,239.0 L450.0,242.0 L448.5,244.3 L447.5,248.0 L447.2,251.2 L399.5,251.3 L397.0,244.0 L394.0,236.0 L391.0,229.0 L389.0,222.0 L390.0,220.0 L389.0,210.0Z"/>
<path d="M399.5,251.3 L447.2,251.2 L451.0,259.0 L454.0,264.0 L456.0,270.0 L458.3,276.4 L461.5,281.0 L463.0,286.0 L468.7,290.8 L472.7,294.8 L475.9,299.5 L483.0,301.2 L479.8,302.8 L477.8,305.0 L478.3,308.5 L476.0,314.0 L474.0,318.0 L467.0,319.0 L467.0,314.0 L412.0,314.0 L412.0,307.8 L411.0,275.0 L409.0,271.0 L406.0,269.0 L404.0,264.0 L402.0,261.5Z"/>
<path d="M435.0,158.0 L441.0,157.0 L448.0,154.0 L451.0,156.0 L458.0,152.5 L458.4,153.4 L466.0,158.0 L476.0,165.5 L482.7,173.0 L485.3,178.0 L482.0,186.0 L484.3,187.0 L488.8,179.6 L492.8,173.4 L493.6,174.0 L490.3,182.0 L487.5,192.5 L485.3,205.0 L485.0,212.0 L485.5,219.8 L458.4,221.7 L452.7,218.0 L450.0,215.0 L448.5,211.0 L447.0,206.6 L444.0,199.0 L437.8,191.8 L431.0,184.0 L429.0,179.0 L428.4,173.0 L434.0,165.5Z"/>
<path d="M458.0,152.5 L466.0,148.0 L474.0,144.0 L480.0,143.0 L477.0,150.6 L483.6,154.0 L489.0,155.5 L495.0,155.0 L502.0,152.5 L510.0,151.5 L517.0,154.0 L521.5,160.4 L517.4,163.8 L513.7,163.0 L509.5,162.2 L506.2,162.0 L500.6,163.9 L495.9,166.2 L492.2,171.0 L488.5,175.0 L485.3,178.0 L482.7,173.0 L476.0,165.5 L466.0,158.0 L458.4,153.4ZM513.7,166.3 L518.0,167.2 L522.0,169.0 L527.6,172.0 L531.0,176.0 L532.0,179.6 L532.0,185.0 L531.0,190.0 L530.0,194.5 L533.0,193.0 L536.0,190.0 L540.7,190.0 L543.0,195.0 L544.5,201.0 L544.5,206.0 L543.5,210.5 L541.0,215.0 L538.0,220.0 L537.0,223.0 L538.3,226.0 L520.7,227.8 L504.5,229.0 L502.7,224.0 L502.7,218.0 L501.0,211.0 L499.8,205.0 L500.2,198.0 L501.0,192.5 L502.2,188.0 L503.8,184.0 L505.2,180.5 L506.6,183.6 L509.2,180.5 L511.5,173.5Z"/>
<path d="M458.4,221.7 L485.5,219.8 L486.0,221.0 L489.5,227.0 L492.0,231.0 L494.0,275.7 L493.0,281.0 L491.0,285.0 L490.0,289.0 L488.7,293.0 L487.0,297.0 L485.5,300.5 L483.0,301.2 L475.9,299.5 L472.7,294.8 L468.7,290.8 L463.0,286.0 L461.5,281.0 L458.3,276.4 L456.0,270.0 L454.0,264.0 L451.0,259.0 L447.2,251.2 L447.5,248.0 L448.5,244.3 L450.0,242.0 L452.5,239.0 L455.5,236.5 L458.5,233.6 L459.5,230.0 L459.2,227.0 L455.2,221.6 L452.7,218.0Z"/>
<path d="M492.0,231.0 L494.0,231.0 L496.0,229.4 L520.7,227.8 L526.3,271.7 L521.5,275.7 L519.0,280.5 L513.0,284.0 L508.0,287.0 L501.5,290.0 L496.0,288.5 L491.0,293.0 L488.7,293.0 L490.0,289.0 L491.0,285.0 L493.0,281.0 L494.0,275.7Z"/>
<path d="M520.7,227.8 L538.3,226.0 L541.0,228.0 L544.7,228.6 L548.0,227.5 L552.7,226.0 L558.0,223.0 L562.0,219.8 L566.0,217.5 L569.5,216.5 L575.0,248.0 L572.0,251.0 L565.4,256.5 L559.8,263.0 L555.8,269.0 L554.0,275.0 L551.0,271.0 L547.0,272.5 L543.0,273.0 L539.0,272.0 L535.0,271.0 L530.0,267.7 L526.3,271.7Z"/>
<path d="M468.0,335.3 L470.0,329.0 L470.0,323.0 L474.0,318.0 L476.0,314.0 L478.3,308.5 L480.0,311.0 L492.0,311.0 L492.0,308.0 L546.0,302.5 L568.0,301.0 L564.0,307.0 L560.0,311.0 L554.0,315.0 L548.0,319.0 L544.0,324.0 L540.0,328.0 L524.0,330.0 L493.0,333.0Z"/>
<path d="M575.0,248.0 L586.0,248.5 L586.0,254.0 L592.0,252.0 L600.0,250.0 L608.0,251.0 L601.0,252.5 L597.5,257.0 L593.4,262.0 L587.8,267.8 L584.7,275.7 L581.5,282.0 L578.0,287.0 L572.0,290.0 L567.0,291.0 L560.8,287.5 L557.0,284.0 L554.0,279.0 L554.0,275.0 L555.8,269.0 L559.8,263.0 L565.4,256.5 L572.0,251.0Z"/>
<path d="M569.5,216.5 L576.0,212.5 L578.0,213.5 L600.0,208.5 L624.0,205.5 L628.0,205.5 L632.0,210.0 L637.0,214.0 L634.0,220.0 L633.0,228.0 L636.0,231.0 L639.0,237.0 L634.0,240.5 L628.7,241.0 L600.0,245.0 L586.0,248.5 L575.0,248.0Z"/>
<path d="M586.0,248.5 L600.0,245.0 L628.0,240.6 L630.4,241.9 L631.8,249.3 L634.6,258.7 L640.3,259.2 L639.3,263.4 L634.6,266.2 L630.9,262.5 L628.0,259.6 L625.7,255.9 L625.3,250.3 L628.0,243.7 L627.0,242.8 L622.6,250.0 L623.8,257.5 L625.2,262.0 L622.4,264.0 L616.8,263.0 L616.8,255.6 L610.3,251.4 L608.0,251.0 L600.0,250.0 L592.0,252.0 L586.0,254.0Z"/>
<path d="M569.5,216.5 L576.4,208.7 L585.0,201.5 L582.8,198.3 L583.6,193.5 L592.0,191.0 L600.0,189.5 L607.5,188.0 L608.0,180.7 L613.0,176.0 L611.5,173.5 L616.0,165.5 L621.0,159.0 L629.0,156.8 L637.5,155.6 L640.0,165.5 L643.0,176.0 L646.0,186.0 L646.7,188.0 L647.5,197.5 L648.0,204.0 L648.0,210.0 L648.3,215.5 L647.2,220.0 L637.0,214.0 L632.0,210.0 L628.0,205.5 L624.0,205.5 L600.0,208.5 L578.0,213.5 L576.0,212.5ZM646.0,219.6 L650.0,217.0 L656.0,214.0 L662.0,211.2 L667.5,209.2 L668.2,210.6 L664.0,212.9 L657.0,216.2 L651.0,219.6 L647.5,221.8 L646.0,221.5Z"/>
<path d="M637.5,155.6 L656.7,150.2 L657.3,156.0 L656.0,165.0 L654.8,172.0 L654.2,185.5 L646.7,187.5 L646.0,186.0 L643.0,176.0 L640.0,165.5Z"/>
<path d="M656.7,150.2 L661.0,145.7 L662.5,147.0 L665.6,155.5 L670.0,168.0 L672.7,174.2 L674.0,180.0 L672.0,182.0 L654.2,185.5 L654.8,172.0 L656.0,165.0 L657.3,156.0Z"/>
<path d="M661.0,145.7 L664.7,137.7 L666.5,127.0 L668.3,116.4 L670.0,107.5 L673.6,112.0 L677.5,109.0 L681.6,106.6 L686.0,110.0 L689.6,121.7 L691.4,128.0 L697.6,130.6 L700.3,136.8 L703.8,138.6 L702.0,143.0 L695.8,146.6 L690.5,150.0 L685.0,155.5 L679.0,164.4 L675.4,169.5 L672.7,174.2 L670.0,168.0 L665.6,155.5 L662.5,147.0Z"/>
<path d="M646.7,188.0 L654.2,185.5 L672.0,182.0 L675.4,184.0 L674.0,189.5 L678.6,193.5 L682.0,195.2 L684.6,194.0 L685.2,191.0 L682.6,189.8 L684.0,188.6 L687.0,190.6 L686.4,195.2 L682.0,197.8 L677.0,197.0 L672.0,199.2 L669.0,194.5 L667.4,195.0 L648.0,198.0Z"/>
<path d="M53.6,67.6 L58.3,65.0 L63.0,63.5 L67.6,62.7 L71.0,64.0 L75.6,66.3 L82.3,68.3 L82.3,98.3 L84.5,100.0 L83.0,100.6 L81.0,100.0 L78.3,99.0 L75.0,97.0 L71.6,96.3 L69.0,98.0 L67.6,97.6 L65.0,99.5 L63.6,99.6 L61.0,103.0 L58.0,105.0 L55.6,106.0 L49.0,108.0 L45.0,109.0 L44.5,108.3 L48.0,106.5 L51.6,105.6 L54.5,103.5 L56.3,101.6 L54.0,100.0 L51.6,99.6 L49.5,98.0 L48.3,96.3 L47.0,93.0 L46.3,91.0 L46.5,89.0 L47.6,87.0 L49.5,85.5 L51.6,84.3 L53.6,81.6 L51.5,80.0 L49.6,79.6 L48.5,77.5 L48.3,75.6 L51.0,74.0 L53.6,73.6 L55.5,75.0 L57.0,75.0 L56.5,73.0 L55.6,71.0 L54.5,69.0ZM85.0,100.2 L88.0,101.3 L91.6,103.2 L94.0,105.2 L92.5,105.6 L90.0,104.0 L87.0,102.4 L84.6,101.2ZM94.5,106.0 L97.5,108.5 L100.0,111.0 L99.0,111.8 L96.5,109.8 L93.8,107.0ZM100.3,112.0 L101.8,113.5 L100.8,117.0 L99.8,119.2 L99.0,117.5 L100.0,115.0ZM96.0,112.0 L97.5,113.5 L98.0,116.0 L96.5,115.0ZM91.0,107.5 L93.5,109.5 L95.0,111.5 L93.0,110.5ZM40.0,109.3 L43.0,108.8 L43.0,110.0 L40.0,110.4ZM35.5,110.0 L38.0,109.7 L38.0,110.8 L35.5,111.0ZM30.5,110.5 L33.0,110.3 L33.0,111.3 L30.5,111.5ZM60.5,104.5 L63.0,103.8 L63.0,105.2 L60.5,105.6ZM44.0,80.5 L45.8,80.5 L45.8,82.0 L44.0,82.0ZM43.5,92.8 L45.0,92.8 L45.0,94.0 L43.5,94.0Z"/>
<path d="M110.3,364.0 L113.5,361.5 L116.0,363.5 L114.5,366.0 L111.5,365.7ZM129.3,370.6 L132.0,369.0 L134.0,372.0 L136.0,373.3 L133.3,374.2 L130.6,372.6ZM141.3,374.7 L147.3,374.7 L148.0,376.2 L143.3,376.8ZM144.9,379.0 L146.5,379.0 L146.5,380.5 L144.9,380.5ZM149.3,378.4 L152.6,378.1 L157.2,380.6 L156.0,382.8 L152.6,382.2 L150.6,380.2ZM149.0,383.0 L150.5,383.0 L150.5,384.5 L149.0,384.5ZM159.2,387.3 L162.0,388.6 L166.0,391.0 L170.0,393.3 L172.6,397.3 L168.6,400.0 L164.6,402.0 L161.2,405.2 L159.2,401.3 L158.6,396.0 L156.6,394.0 L159.2,392.0Z"/>
</g>
<path fill="#ffffff" d="M82.3,254.5 L85,250.8 L88.6,248.6 L91,249 L89.6,250.4 L87,251.6 L87.6,255.8 L86.2,257 L85.6,252.6 L83.6,256.3Z"/>
<path fill="none" stroke="#c2c2c2" stroke-width="0.7" d="M636,290 L632,291 L629,290.5 L631,293.5 L628.5,296.5 L633,297.5 L636,296 M640,301 L636,302 L631,301 L633.5,305 L629.5,309 L633,311.5 L636.5,310"/>
<g>
<text transform="translate(68.5,81.1) scale(0.9,1)" text-anchor="middle" font-size="11.5" fill="#f4fbf0" stroke="#f4fbf0" stroke-width="0.2">AK</text>
<text transform="translate(68.5,94.1) scale(0.9,1)" text-anchor="middle" font-size="11.5" fill="#f4fbf0" stroke="#f4fbf0" stroke-width="0.2">2.8%</text>
<text transform="translate(143.5,115.6) scale(0.9,1)" text-anchor="middle" font-size="11.5" fill="#f4fbf0" stroke="#f4fbf0" stroke-width="0.2">WA</text>
<text transform="translate(143.5,130.1) scale(0.9,1)" text-anchor="middle" font-size="11.5" fill="#f4fbf0" stroke="#f4fbf0" stroke-width="0.2">7.2%</text>
<text transform="translate(128.5,164.6) scale(0.9,1)" text-anchor="middle" font-size="11.5" fill="#f4fbf0" stroke="#f4fbf0" stroke-width="0.2">OR</text>
<text transform="translate(128.5,177.6) scale(0.9,1)" text-anchor="middle" font-size="11.5" fill="#f4fbf0" stroke="#f4fbf0" stroke-width="0.2">12.1%</text>
<text transform="translate(193.5,184.1) scale(0.9,1)" text-anchor="middle" font-size="11.5" fill="#f4fbf0" stroke="#f4fbf0" stroke-width="0.2">ID</text>
<text transform="translate(193.5,197.6) scale(0.9,1)" text-anchor="middle" font-size="11.5" fill="#f4fbf0" stroke="#f4fbf0" stroke-width="0.2">15.2%</text>
<text transform="translate(250.5,141.6) scale(0.9,1)" text-anchor="middle" font-size="11.5" fill="#f4fbf0" stroke="#f4fbf0" stroke-width="0.2">MT</text>
<text transform="translate(250.0,155.6) scale(0.9,1)" text-anchor="middle" font-size="11.5" fill="#f4fbf0" stroke="#f4fbf0" stroke-width="0.2">7.6%</text>
<text transform="translate(268.0,207.1) scale(0.9,1)" text-anchor="middle" font-size="11.5" fill="#f4fbf0" stroke="#f4fbf0" stroke-width="0.2">WY</text>
<text transform="translate(267.0,220.6) scale(0.9,1)" text-anchor="middle" font-size="11.5" fill="#f4fbf0" stroke="#f4fbf0" stroke-width="0.2">9.5%</text>
<text transform="translate(155.5,242.1) scale(0.9,1)" text-anchor="middle" font-size="11.5" fill="#8d927c" stroke="#8d927c" stroke-width="0.2">NV</text>
<text transform="translate(155.5,255.6) scale(0.9,1)" text-anchor="middle" font-size="11.5" fill="#8d927c" stroke="#8d927c" stroke-width="0.2">0.9%</text>
<text transform="translate(209.0,258.6) scale(0.9,1)" text-anchor="middle" font-size="11.5" fill="#f4fbf0" stroke="#f4fbf0" stroke-width="0.2">UT</text>
<text transform="translate(209.0,272.1) scale(0.9,1)" text-anchor="middle" font-size="11.5" fill="#f4fbf0" stroke="#f4fbf0" stroke-width="0.2">2.1%</text>
<text transform="translate(109.5,275.6) scale(0.9,1)" text-anchor="middle" font-size="11.5" fill="#f4fbf0" stroke="#f4fbf0" stroke-width="0.2">CA</text>
<text transform="translate(109.5,289.1) scale(0.9,1)" text-anchor="middle" font-size="11.5" fill="#f4fbf0" stroke="#f4fbf0" stroke-width="0.2">7.0%</text>
<text transform="translate(198.5,334.1) scale(0.9,1)" text-anchor="middle" font-size="11.5" fill="#8d927c" stroke="#8d927c" stroke-width="0.2">AZ</text>
<text transform="translate(198.5,347.1) scale(0.9,1)" text-anchor="middle" font-size="11.5" fill="#8d927c" stroke="#8d927c" stroke-width="0.2">0.5%</text>
<text transform="translate(283.0,269.6) scale(0.9,1)" text-anchor="middle" font-size="11.5" fill="#f4fbf0" stroke="#f4fbf0" stroke-width="0.2">CO</text>
<text transform="translate(283.0,283.1) scale(0.9,1)" text-anchor="middle" font-size="11.5" fill="#f4fbf0" stroke="#f4fbf0" stroke-width="0.2">16.9%</text>
<text transform="translate(273.0,342.1) scale(0.9,1)" text-anchor="middle" font-size="11.5" fill="#f4fbf0" stroke="#f4fbf0" stroke-width="0.2">NM</text>
<text transform="translate(273.0,355.1) scale(0.9,1)" text-anchor="middle" font-size="11.5" fill="#f4fbf0" stroke="#f4fbf0" stroke-width="0.2">10.8%</text>
<text transform="translate(346.0,146.1) scale(0.9,1)" text-anchor="middle" font-size="11.5" fill="#f4fbf0" stroke="#f4fbf0" stroke-width="0.2">ND</text>
<text transform="translate(346.0,159.0) scale(0.9,1)" text-anchor="middle" font-size="11.5" fill="#f4fbf0" stroke="#f4fbf0" stroke-width="0.2">20.1%</text>
<text transform="translate(347.5,189.9) scale(0.9,1)" text-anchor="middle" font-size="11.5" fill="#f4fbf0" stroke="#f4fbf0" stroke-width="0.2">SD</text>
<text transform="translate(347.5,202.9) scale(0.9,1)" text-anchor="middle" font-size="11.5" fill="#f4fbf0" stroke="#f4fbf0" stroke-width="0.2">29.0%</text>
<text transform="translate(350.5,237.6) scale(0.9,1)" text-anchor="middle" font-size="11.5" fill="#f4fbf0" stroke="#f4fbf0" stroke-width="0.2">NE</text>
<text transform="translate(350.5,250.6) scale(0.9,1)" text-anchor="middle" font-size="11.5" fill="#f4fbf0" stroke="#f4fbf0" stroke-width="0.2">9.3%</text>
<text transform="translate(366.5,283.1) scale(0.9,1)" text-anchor="middle" font-size="11.5" fill="#f4fbf0" stroke="#f4fbf0" stroke-width="0.2">KS</text>
<text transform="translate(366.5,296.1) scale(0.9,1)" text-anchor="middle" font-size="11.5" fill="#f4fbf0" stroke="#f4fbf0" stroke-width="0.2">30.0%</text>
<text transform="translate(378.5,328.1) scale(0.9,1)" text-anchor="middle" font-size="11.5" fill="#f4fbf0" stroke="#f4fbf0" stroke-width="0.2">OK</text>
<text transform="translate(378.5,341.1) scale(0.9,1)" text-anchor="middle" font-size="11.5" fill="#f4fbf0" stroke="#f4fbf0" stroke-width="0.2">24.5%</text>
<text transform="translate(353.6,393.1) scale(0.9,1)" text-anchor="middle" font-size="11.5" fill="#f4fbf0" stroke="#f4fbf0" stroke-width="0.2">TX</text>
<text transform="translate(356.0,406.1) scale(0.9,1)" text-anchor="middle" font-size="11.5" fill="#f4fbf0" stroke="#f4fbf0" stroke-width="0.2">12.7%</text>
<text transform="translate(409.0,154.6) scale(0.9,1)" text-anchor="middle" font-size="11.5" fill="#f4fbf0" stroke="#f4fbf0" stroke-width="0.2">MN</text>
<text transform="translate(409.0,167.6) scale(0.9,1)" text-anchor="middle" font-size="11.5" fill="#f4fbf0" stroke="#f4fbf0" stroke-width="0.2">17.4%</text>
<text transform="translate(422.0,228.1) scale(0.9,1)" text-anchor="middle" font-size="11.5" fill="#f4fbf0" stroke="#f4fbf0" stroke-width="0.2">IA</text>
<text transform="translate(422.0,241.1) scale(0.9,1)" text-anchor="middle" font-size="11.5" fill="#f4fbf0" stroke="#f4fbf0" stroke-width="0.2">36.3%</text>
<text transform="translate(432.0,286.6) scale(0.9,1)" text-anchor="middle" font-size="11.5" fill="#f4fbf0" stroke="#f4fbf0" stroke-width="0.2">MO</text>
<text transform="translate(432.0,299.6) scale(0.9,1)" text-anchor="middle" font-size="11.5" fill="#f4fbf0" stroke="#f4fbf0" stroke-width="0.2">1.5%</text>
<text transform="translate(460.0,187.1) scale(0.9,1)" text-anchor="middle" font-size="11.5" fill="#f4fbf0" stroke="#f4fbf0" stroke-width="0.2">WI</text>
<text transform="translate(460.0,200.1) scale(0.9,1)" text-anchor="middle" font-size="11.5" fill="#f4fbf0" stroke="#f4fbf0" stroke-width="0.2">2.4%</text>
<text transform="translate(472.0,252.6) scale(0.9,1)" text-anchor="middle" font-size="11.5" fill="#f4fbf0" stroke="#f4fbf0" stroke-width="0.2">IL</text>
<text transform="translate(472.0,265.1) scale(0.9,1)" text-anchor="middle" font-size="11.5" fill="#f4fbf0" stroke="#f4fbf0" stroke-width="0.2">5.9%</text>
<text transform="translate(508.7,256.6) scale(0.9,1)" text-anchor="middle" font-size="11.5" fill="#f4fbf0" stroke="#f4fbf0" stroke-width="0.2">IN</text>
<text transform="translate(508.7,269.4) scale(0.9,1)" text-anchor="middle" font-size="11.5" fill="#f4fbf0" stroke="#f4fbf0" stroke-width="0.2">5.0%</text>
<text transform="translate(520.0,207.6) scale(0.9,1)" text-anchor="middle" font-size="11.5" fill="#f4fbf0" stroke="#f4fbf0" stroke-width="0.2">MI</text>
<text transform="translate(520.0,220.6) scale(0.9,1)" text-anchor="middle" font-size="11.5" fill="#f4fbf0" stroke="#f4fbf0" stroke-width="0.2">4.0%</text>
<text transform="translate(544.3,245.6) scale(0.9,1)" text-anchor="middle" font-size="11.5" fill="#f4fbf0" stroke="#f4fbf0" stroke-width="0.2">OH</text>
<text transform="translate(544.3,258.6) scale(0.9,1)" text-anchor="middle" font-size="11.5" fill="#f4fbf0" stroke="#f4fbf0" stroke-width="0.2">1.1%</text>
<text transform="translate(569.5,270.6) scale(0.9,1)" text-anchor="middle" font-size="11.5" fill="#f4fbf0" stroke="#f4fbf0" stroke-width="0.2">WV</text>
<text transform="translate(569.5,282.6) scale(0.9,1)" text-anchor="middle" font-size="11.5" fill="#f4fbf0" stroke="#f4fbf0" stroke-width="0.2">1.8%</text>
<text transform="translate(602.5,225.6) scale(0.9,1)" text-anchor="middle" font-size="11.5" fill="#f4fbf0" stroke="#f4fbf0" stroke-width="0.2">PA</text>
<text transform="translate(602.5,238.1) scale(0.9,1)" text-anchor="middle" font-size="11.5" fill="#f4fbf0" stroke="#f4fbf0" stroke-width="0.2">1.6%</text>
<text transform="translate(624.0,187.1) scale(0.9,1)" text-anchor="middle" font-size="11.5" fill="#f4fbf0" stroke="#f4fbf0" stroke-width="0.2">NY</text>
<text transform="translate(624.0,200.0) scale(0.9,1)" text-anchor="middle" font-size="11.5" fill="#f4fbf0" stroke="#f4fbf0" stroke-width="0.2">2.9%</text>
<text transform="translate(679.4,131.6) scale(0.9,1)" text-anchor="middle" font-size="11.5" fill="#f4fbf0" stroke="#f4fbf0" stroke-width="0.2">ME</text>
<text transform="translate(682.3,144.6) scale(0.9,1)" text-anchor="middle" font-size="11.5" fill="#f4fbf0" stroke="#f4fbf0" stroke-width="0.2">13.1%</text>
<text transform="translate(626.0,135.1) scale(0.9,1)" text-anchor="middle" font-size="11.5" fill="#8b8b8b" stroke="#8b8b8b" stroke-width="0.2">VT</text>
<text transform="translate(630.0,146.1) scale(0.9,1)" text-anchor="middle" font-size="11.5" fill="#8b8b8b" stroke="#8b8b8b" stroke-width="0.2">15.3%</text>
<text transform="translate(130.5,393.1) scale(0.9,1)" text-anchor="middle" font-size="11.5" fill="#8b8b8b" stroke="#8b8b8b" stroke-width="0.2">HI</text>
<text transform="translate(130.5,405.6) scale(0.9,1)" text-anchor="middle" font-size="11.5" fill="#8b8b8b" stroke="#8b8b8b" stroke-width="0.2">6.9%</text>
<text transform="translate(700.5,180.6) scale(0.9,1)" text-anchor="middle" font-size="11.5" fill="#8b8b8b" stroke="#8b8b8b" stroke-width="0.2">NH 2.3%</text>
<text transform="translate(712.2,197.6) scale(0.97,1)" text-anchor="middle" font-size="11.5" fill="#8b8b8b" stroke="#8b8b8b" stroke-width="0.2">MA 0.7%</text>
<text transform="translate(680.0,213.1) scale(0.8,1)" text-anchor="middle" font-size="11.5" fill="#8b8b8b" stroke="#8b8b8b" stroke-width="0.2">RI</text>
<text transform="translate(669.5,225.1) scale(0.9,1)" text-anchor="middle" font-size="11.5" fill="#8b8b8b" stroke="#8b8b8b" stroke-width="0.2">CT</text>
<text transform="translate(655.0,240.6) scale(0.9,1)" text-anchor="middle" font-size="11.5" fill="#8b8b8b" stroke="#8b8b8b" stroke-width="0.2">NJ</text>
<text transform="translate(652.0,258.6) scale(0.9,1)" text-anchor="middle" font-size="11.5" fill="#8b8b8b" stroke="#8b8b8b" stroke-width="0.2">DE</text>
<text transform="translate(664.5,272.1) scale(0.9,1)" text-anchor="middle" font-size="11.5" fill="#8b8b8b" stroke="#8b8b8b" stroke-width="0.2">MD 1.4%</text>
<text transform="translate(604.0,288.1) scale(0.9,1)" text-anchor="middle" font-size="11.5" fill="#8b8b8b" stroke="#8b8b8b" stroke-width="0.2">VA</text>
<text transform="translate(604.0,318.1) scale(0.9,1)" text-anchor="middle" font-size="11.5" fill="#8b8b8b" stroke="#8b8b8b" stroke-width="0.2">NC</text>
<text transform="translate(585.0,345.1) scale(0.9,1)" text-anchor="middle" font-size="11.5" fill="#8b8b8b" stroke="#8b8b8b" stroke-width="0.2">SC</text>
<text transform="translate(527.0,295.1) scale(0.9,1)" text-anchor="middle" font-size="11.5" fill="#8b8b8b" stroke="#8b8b8b" stroke-width="0.2">KY</text>
<text transform="translate(512.0,324.1) scale(0.9,1)" text-anchor="middle" font-size="11.5" fill="#8d927c" stroke="#8d927c" stroke-width="0.2">TN 0.1%</text>
<text transform="translate(513.0,372.6) scale(0.9,1)" text-anchor="middle" font-size="11.5" fill="#8b8b8b" stroke="#8b8b8b" stroke-width="0.2">AL</text>
<text transform="translate(555.0,372.6) scale(0.9,1)" text-anchor="middle" font-size="11.5" fill="#8b8b8b" stroke="#8b8b8b" stroke-width="0.2">GA</text>
<text transform="translate(474.0,375.1) scale(0.9,1)" text-anchor="middle" font-size="11.5" fill="#8b8b8b" stroke="#8b8b8b" stroke-width="0.2">MS</text>
<text transform="translate(436.0,346.6) scale(0.9,1)" text-anchor="middle" font-size="11.5" fill="#8b8b8b" stroke="#8b8b8b" stroke-width="0.2">AR</text>
<text transform="translate(437.0,395.6) scale(0.9,1)" text-anchor="middle" font-size="11.5" fill="#8b8b8b" stroke="#8b8b8b" stroke-width="0.2">LA</text>
<text transform="translate(590.0,440.6) scale(0.9,1)" text-anchor="middle" font-size="11.5" fill="#8b8b8b" stroke="#8b8b8b" stroke-width="0.2">FL</text>
<text transform="translate(524.0,452.1) scale(0.9,1)" text-anchor="middle" font-size="11.5" fill="#8b8b8b" stroke="#8b8b8b" stroke-width="0.2">PR</text>
<text transform="translate(666.0,392.6) scale(0.88,1)" text-anchor="middle" font-size="11.5" fill="#2f9a5d" stroke="#2f9a5d" stroke-width="0.2">U.S. Total: 5.5%</text>
</g>
<rect x="121.5" y="493.5" width="10" height="10" fill="#c6dc8b"/>
<text transform="translate(139.6,502.9) scale(0.94,1)" text-anchor="start" font-size="11.3" fill="#262626" stroke="#262626" stroke-width="0.2">&lt;1%</text>
<rect x="176.8" y="493.5" width="10" height="10" fill="#7dc142"/>
<text transform="translate(195.0,502.9) scale(0.94,1)" text-anchor="start" font-size="11.3" fill="#262626" stroke="#262626" stroke-width="0.2">1% to &lt;5%</text>
<rect x="263" y="493.5" width="10" height="10" fill="#2aa347"/>
<text transform="translate(279.0,502.9) scale(0.94,1)" text-anchor="start" font-size="11.3" fill="#262626" stroke="#262626" stroke-width="0.2">5% to &lt;10%</text>
<rect x="353.5" y="493.5" width="10" height="10" fill="#0d803f"/>
<text transform="translate(370.0,502.9) scale(0.94,1)" text-anchor="start" font-size="11.3" fill="#262626" stroke="#262626" stroke-width="0.2">10% to &lt;15%</text>
<rect x="450" y="493.5" width="10" height="10" fill="#0b5a2b"/>
<text transform="translate(468.5,502.9) scale(0.94,1)" text-anchor="start" font-size="11.3" fill="#262626" stroke="#262626" stroke-width="0.2">15% to &lt;20%</text>
<rect x="549.5" y="493.5" width="10" height="10" fill="#1b4536"/>
<text transform="translate(568.5,502.9) scale(0.94,1)" text-anchor="start" font-size="11.3" fill="#262626" stroke="#262626" stroke-width="0.2">20% and higher</text>
<text transform="translate(242.0,523.6) scale(0.946,1)" text-anchor="start" font-size="11.3" fill="#262626" stroke="#262626" stroke-width="0.2">*Rolling 12 Month Average, November 2015 - October 2016</text>
</svg></body></html>
